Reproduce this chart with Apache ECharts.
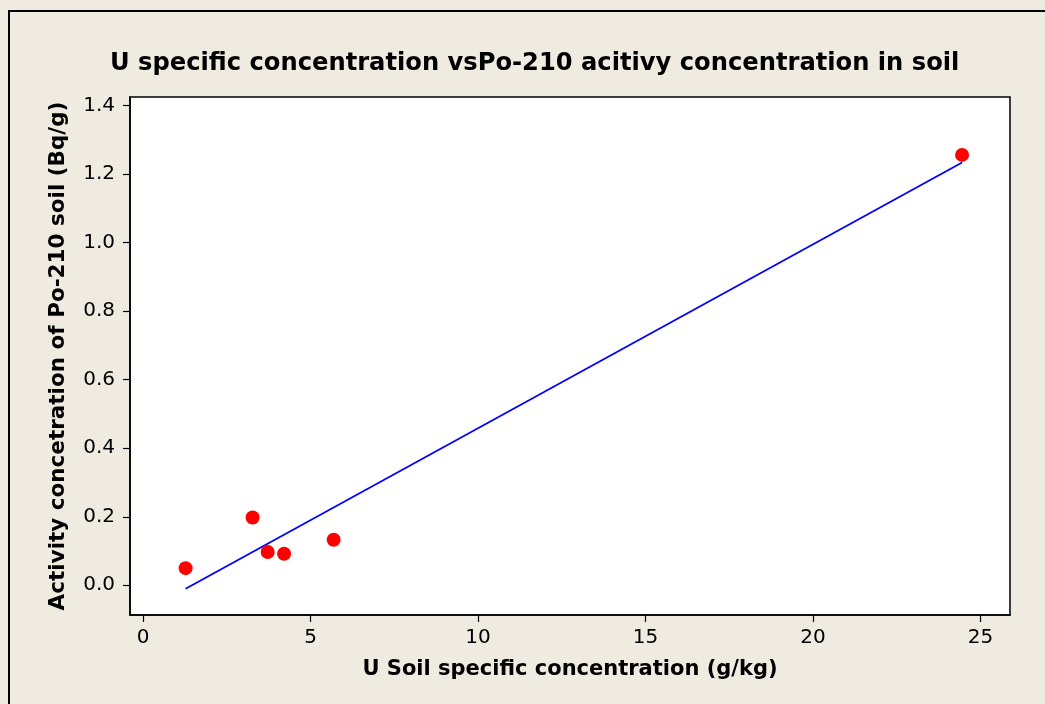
<!DOCTYPE html>
<html>
<head>
<meta charset="utf-8">
<script src="https://cdn.jsdelivr.net/npm/echarts@6/dist/echarts.min.js"></script>
<style>
  html, body { margin: 0; padding: 0; background: #efebe1; }
  #chart { width: 1045px; height: 704px; }
</style>
</head>
<body>
<div id="chart"></div>
<script>
// measured points (U in g/kg, Po-210 in Bq/g)
const uSoil = [1.27, 3.27, 3.72, 4.21, 5.69, 24.45];
const poActivity = [0.05, 0.198, 0.097, 0.092, 0.133, 1.256];
// fitted line end points
const fitX = [1.27, 24.45];
const fitY = [-0.01, 1.234];
const xTicks = [0, 5, 10, 15, 20, 25];
const yTicks = [0.0, 0.2, 0.4, 0.6, 0.8, 1.0, 1.2, 1.4];

const chart = echarts.init(document.getElementById('chart'));
const font = 'DejaVu Sans';

chart.setOption({
  backgroundColor: '#efebe1',
  animation: false,
  title: {
    text: 'U specific concentration vsPo-210 acitivy concentration in soil',
    left: 105,
    top: 47,
    textStyle: { fontFamily: font, fontWeight: 'bold', fontSize: 24.2, color: '#000' }
  },
  graphic: [{
    type: 'rect',
    shape: { x: 9, y: 11, width: 1060, height: 720 },
    style: { fill: 'none', stroke: '#000', lineWidth: 2 },
    silent: true
  }],
  grid: {
    left: 130, top: 97, right: 35, bottom: 89,
    show: true, backgroundColor: '#fff', borderColor: '#000', borderWidth: 1.5
  },
  xAxis: {
    type: 'value',
    min: -0.39,
    max: 25.88,
    name: 'U Soil specific concentration (g/kg)',
    nameLocation: 'middle',
    nameGap: 44,
    nameTextStyle: { fontFamily: font, fontWeight: 'bold', fontSize: 21, color: '#000' },
    axisLine: { show: true, onZero: false, lineStyle: { color: '#000', width: 1.5 } },
    axisTick: { show: true, length: 7, customValues: xTicks, lineStyle: { color: '#000', width: 1.2 } },
    axisLabel: { customValues: xTicks, fontFamily: font, fontSize: 20, color: '#000', margin: 13 },
    splitLine: { show: false }
  },
  yAxis: {
    type: 'value',
    min: -0.0867,
    max: 1.425,
    name: 'Activity concetration of Po-210 soil (Bq/g)',
    nameLocation: 'middle',
    nameGap: 61,
    nameTextStyle: { fontFamily: font, fontWeight: 'bold', fontSize: 21.5, color: '#000' },
    axisLine: { show: true, onZero: false, lineStyle: { color: '#000', width: 1.5 } },
    axisTick: { show: true, length: 7, customValues: yTicks, lineStyle: { color: '#000', width: 1.2 } },
    axisLabel: {
      customValues: yTicks, fontFamily: font, fontSize: 20, color: '#000', margin: 15,
      formatter: v => v.toFixed(1)
    },
    splitLine: { show: false }
  },
  series: [
    {
      type: 'line',
      data: fitX.map((x, i) => [x, fitY[i]]),
      symbol: 'none',
      lineStyle: { color: '#0000ff', width: 1.8 },
      z: 2
    },
    {
      type: 'scatter',
      data: uSoil.map((x, i) => [x, poActivity[i]]),
      symbol: 'circle',
      symbolSize: 14,
      itemStyle: { color: '#ff0000', opacity: 1 },
      z: 3
    }
  ]
});
</script>
</body>
</html>
